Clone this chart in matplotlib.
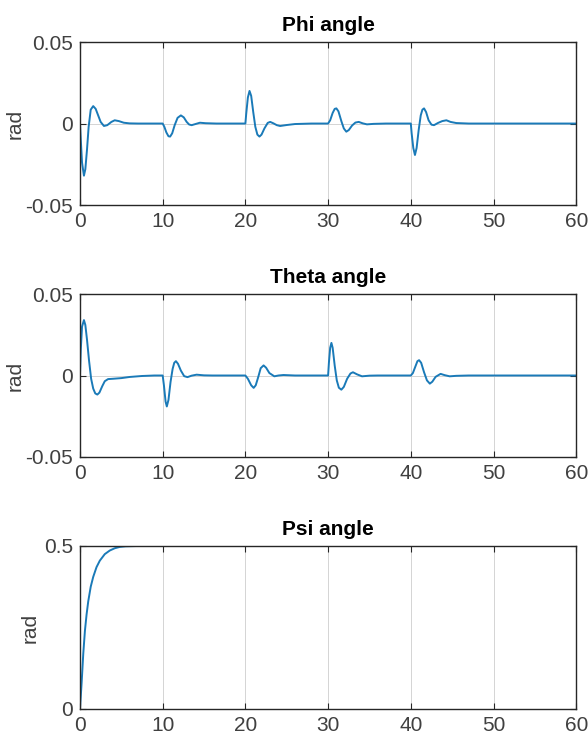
import matplotlib
matplotlib.use("Agg")
from matplotlib import pyplot as plt

plt.rcParams['font.family'] = ['Liberation Sans Narrow', 'Liberation Sans', 'DejaVu Sans']

# Phi angle (rad)
t_phi = [0, 0.1, 0.25, 0.48, 0.65, 0.85, 1.05, 1.3, 1.6, 1.9, 2.2, 2.5, 2.9, 3.3, 3.8, 4.2, 4.7, 5.3, 6, 7,
         10, 10.2, 10.45, 10.7, 10.9, 11.15, 11.45, 11.8, 12.2, 12.55, 12.9, 13.2, 13.5, 13.9, 14.5, 15.2, 16.5,
         20, 20.1, 20.3, 20.5, 20.7, 20.95, 21.2, 21.45, 21.7, 21.95, 22.3, 22.7, 23.0, 23.4, 23.8, 24.2, 25, 26, 28,
         30, 30.25, 30.55, 30.8, 31.0, 31.25, 31.6, 31.9, 32.2, 32.5, 32.9, 33.3, 33.7, 34.2, 34.7, 35.5, 37,
         40, 40.1, 40.3, 40.5, 40.7, 40.95, 41.2, 41.4, 41.6, 41.85, 42.15, 42.5, 42.8, 43.3, 43.8, 44.3, 44.8,
         45.5, 47, 60]
phi = [0, -0.01, -0.024, -0.032, -0.028, -0.016, -0.002, 0.0085, 0.0107, 0.009, 0.005, 0.001, -0.0015, -0.001,
       0.001, 0.002, 0.0015, 0.0005, 0.0001, 0,
       0, -0.002, -0.0055, -0.0078, -0.008, -0.006, -0.001, 0.0035, 0.005, 0.0038, 0.001, -0.0006, -0.001,
       -0.0004, 0.0005, 0.0002, 0,
       0, 0.006, 0.016, 0.020, 0.017, 0.007, -0.002, -0.0068, -0.008, -0.0068, -0.003, 0.0004, 0.001, 0.0001,
       -0.001, -0.0015, -0.0009, -0.0003, 0,
       0, 0.002, 0.0065, 0.009, 0.0093, 0.0075, 0.0015, -0.003, -0.005, -0.004, -0.0012, 0.0006, 0.001,
       0.0001, -0.0005, -0.0002, 0,
       0, -0.006, -0.015, -0.0193, -0.015, -0.004, 0.005, 0.0085, 0.0093, 0.007, 0.002, -0.0007, -0.001,
       0.0004, 0.0015, 0.002, 0.001, 0.0003, 0, 0]

# Theta angle (rad)
t_theta = [0, 0.1, 0.25, 0.48, 0.65, 0.85, 1.1, 1.35, 1.6, 1.85, 2.1, 2.35, 2.7, 3.0, 3.4, 4, 5, 6, 7.5, 9,
           10, 10.15, 10.35, 10.5, 10.7, 10.95, 11.2, 11.4, 11.6, 11.85, 12.2, 12.6, 13, 13.5, 14.1, 15, 16,
           20, 20.3, 20.7, 21, 21.25, 21.55, 21.85, 22.2, 22.5, 22.9, 23.5, 24, 24.6, 26,
           30, 30.1, 30.25, 30.4, 30.55, 30.8, 31.05, 31.3, 31.6, 31.9, 32.3, 32.7, 33, 33.5, 34.1, 35, 36,
           40, 40.25, 40.55, 40.8, 41, 41.25, 41.6, 41.95, 42.3, 42.6, 43, 43.6, 44.1, 44.7, 45.5, 47, 60]
theta = [0, 0.016, 0.03, 0.034, 0.031, 0.022, 0.009, -0.002, -0.008, -0.011, -0.0117, -0.0105, -0.0065,
         -0.0035, -0.0022, -0.002, -0.0016, -0.0009, -0.0003, 0,
         0, -0.006, -0.016, -0.019, -0.015, -0.004, 0.004, 0.0078, 0.0088, 0.0072, 0.003, -0.0004, -0.001,
         -0.0001, 0.0005, 0.0001, 0,
         0, -0.002, -0.006, -0.0076, -0.006, -0.001, 0.0045, 0.0062, 0.0048, 0.0015, -0.0005, 0, 0.0003, 0,
         0, 0.008, 0.017, 0.020, 0.017, 0.006, -0.003, -0.0075, -0.0087, -0.007, -0.002, 0.0012, 0.002,
         0.0007, -0.0005, -0.0001, 0,
         0, 0.0015, 0.0055, 0.0088, 0.0094, 0.0078, 0.002, -0.003, -0.005, -0.0038, -0.0008, 0.001, 0.0002,
         -0.0005, -0.0002, 0, 0]

# Psi angle (rad)
t_psi = [0, 0.1, 0.2, 0.3, 0.4, 0.6, 0.8, 1.0, 1.3, 1.6, 2.0, 2.4, 3.0, 3.6, 4.2, 4.8, 5.5, 7, 60]
psi = [0, 0.04, 0.08, 0.125, 0.17, 0.24, 0.29, 0.33, 0.375, 0.405, 0.435, 0.455, 0.475, 0.486, 0.493,
       0.497, 0.499, 0.5, 0.5]

panels = [
    ("Phi angle", t_phi, phi, (-0.05, 0.05), [-0.05, 0, 0.05], ["-0.05", "0", "0.05"], -0.111),
    ("Theta angle", t_theta, theta, (-0.05, 0.05), [-0.05, 0, 0.05], ["-0.05", "0", "0.05"], -0.111),
    ("Psi angle", t_psi, psi, (0, 0.5), [0, 0.5], ["0", "0.5"], -0.081),
]
xticks = [0, 10, 20, 30, 40, 50, 60]
bottoms = [0.727, 0.3915, 0.056]

fig = plt.figure(figsize=(5.88, 7.51), dpi=100)
for (title, t, y, ylim, yt, ytl, labx), b in zip(panels, bottoms):
    ax = fig.add_axes([0.136, b, 0.844, 0.217])
    ax.plot(t, y, color='#1a7ab8', lw=1.4)
    ax.set_xlim(0, 60)
    ax.set_ylim(*ylim)
    ax.set_xticks(xticks)
    ax.set_yticks(yt)
    ax.set_yticklabels(ytl)
    ax.grid(True, color='#d4d4d4', lw=0.7)
    ax.set_axisbelow(True)
    ax.tick_params(direction='in', top=True, right=True, length=4,
                   labelsize=15, colors='#262626', labelcolor='#404040', pad=5)
    for s in ax.spines.values():
        s.set_color('#262626')
        s.set_linewidth(1.0)
    ax.set_title(title, fontsize=15, fontweight='bold', pad=8)
    ax.set_ylabel("rad", fontsize=15, color='#404040')
    ax.yaxis.set_label_coords(labx, 0.5)

fig.savefig("out.png", dpi=100)
